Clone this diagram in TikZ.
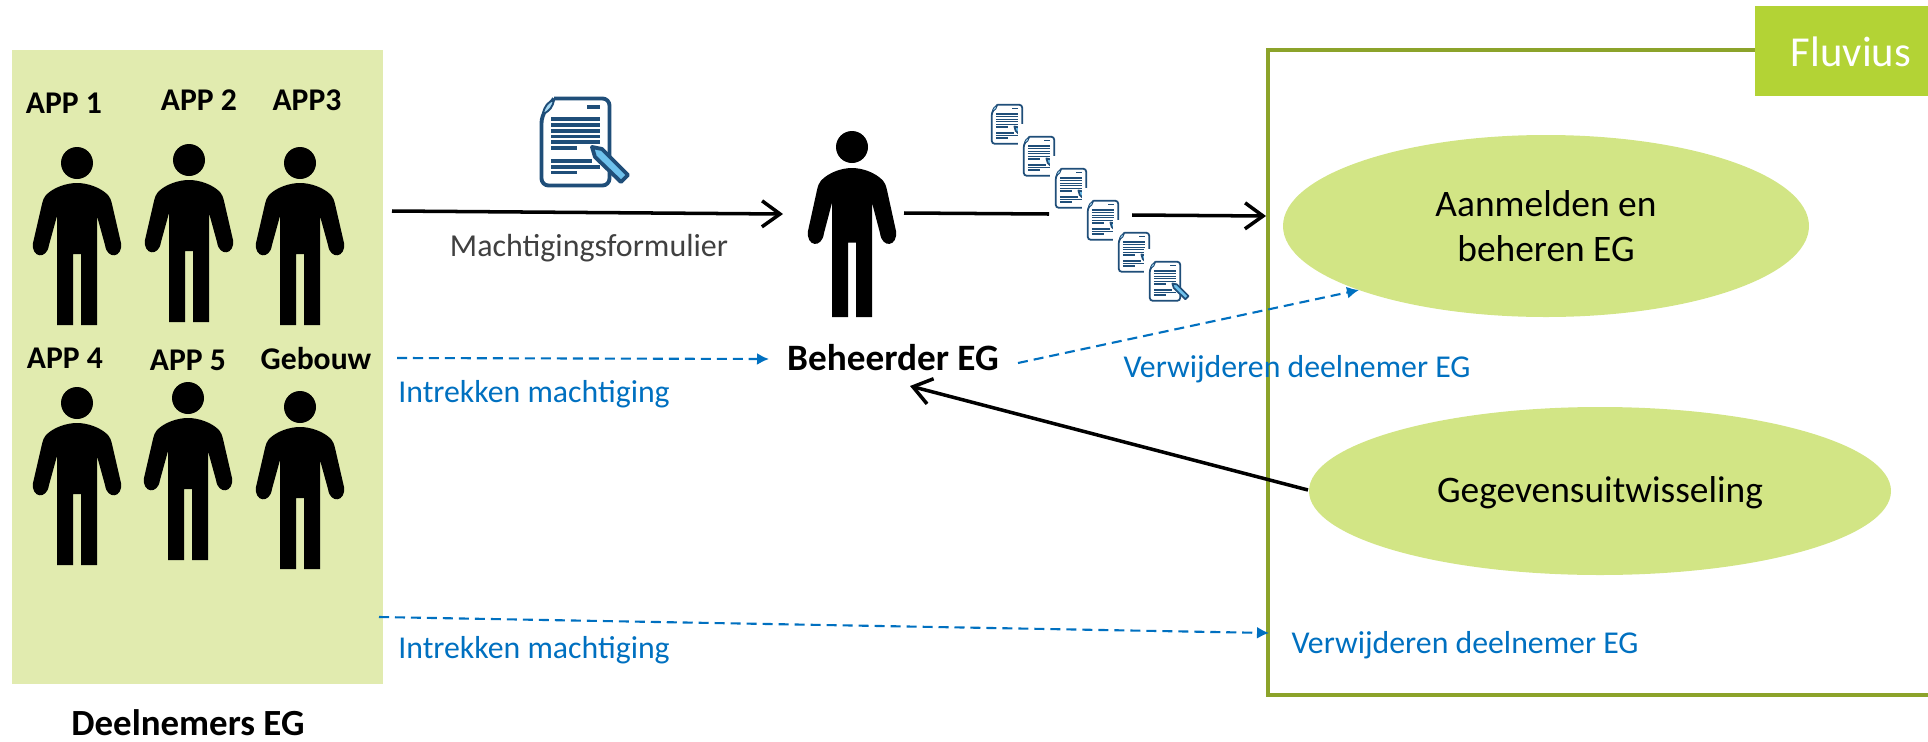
\documentclass[tikz,border=0pt]{standalone}
\usepackage{fontspec}
\setmainfont{Carlito}
\usetikzlibrary{arrows.meta,shapes.geometric}
\definecolor{paneel}{HTML}{E1EBAF}
\definecolor{ovaal}{HTML}{D2E585}
\definecolor{kader}{HTML}{8CA32A}
\definecolor{fluv}{HTML}{B3D335}
\definecolor{blauw}{HTML}{0070C0}
\definecolor{inkt}{HTML}{1F4E79}
\definecolor{potlood}{HTML}{6EC1EC}
\tikzset{
    pijl/.style={black, line width=2pt, -{Straight Barb[length=3.6mm, width=5.2mm, line width=2pt]}},
    stippel/.style={blauw, line width=1.2pt, dash pattern=on 5.7pt off 3.4pt, -{Latex[length=2.4mm, width=2.4mm]}},
    app/.style={font=\bfseries\fontsize{18}{20}\selectfont},
    blauwtekst/.style={blauw, font=\fontsize{18.1}{20}\selectfont},
    ovaaltekst/.style={align=center, font=\fontsize{21.3}{26}\selectfont},
}
% figure: head centre at #1,#2, body stretch #3
\newcommand{\persoon}[3]{
\begin{scope}[shift={(#1,#2)}]
\fill (0,0) circle (16);
\begin{scope}[yscale=#3]
\fill (-31,32) .. controls (-23,24) and (-10,20) .. (0,20) .. controls (10,20) and (23,24) .. (31,32)
    .. controls (33,34) and (34,37) .. (35,41) -- (44,80) .. controls (46,95) and (30,97) .. (28,82)
    -- (20,53) -- (20,162) -- (4,162) -- (4,91) -- (-4,91) -- (-4,162) -- (-20,162) -- (-20,53)
    -- (-28,82) .. controls (-30,97) and (-46,95) .. (-44,80) -- (-35,41) .. controls (-34,37) and (-33,34) .. (-31,32) -- cycle;
\end{scope}
\end{scope}
}
% form: top left at #1,#2, size factor #3
\newcommand{\formulier}[3]{
\begin{scope}[shift={(#1,#2)}, x=#3*0.02cm, y=-#3*0.02cm]
\fill[white] (-12,-27) rectangle (100,100);
\draw[inkt, line width=#3*2.2pt, fill=white, rounded corners=#3*4pt] (14,1.5) -- (69.5,1.5) -- (69.5,88.5) -- (1.5,88.5) -- (1.5,19) -- (14,1.5);
\fill[potlood!60, draw=inkt, line width=#3*1.1pt] (3,17) .. controls (4,9) and (9,4) .. (14,3) .. controls (13,9) and (10,14) .. (3,17) -- cycle;
\draw[inkt, line width=#3*1.8pt]
    (47,10) -- (60,10)
    (11,22) -- (60,22) (11,28) -- (60,28) (11,34) -- (60,34) (11,39.5) -- (60,39.5) (11,45) -- (60,45)
    (11,51) -- (37,51)
    (11,64) -- (52,64) (11,70) -- (60,70) (11,75.5) -- (37,75.5);
\draw[inkt, line width=#3*2.2pt, fill=potlood, line join=round] (52,50) -- (62,52) -- (88,78) -- (81,85) -- (55,60) -- cycle;
\end{scope}
}
\begin{document}
\begin{tikzpicture}[x=.02cm, y=-.02cm, >=latex]
\useasboundingbox (0,0) rectangle (1928,741);

\fill[paneel] (12,50) rectangle (383,684);
\draw[kader, line width=2.3pt] (1928,50) -- (1268,50) -- (1268,695) -- (1928,695);
\fill[fluv] (1755,6) rectangle (1928,96);
\node (fluvius) [white, font=\fontsize{24.3}{26}\selectfont] at (1851,52) {Fluvius};

\node (aanmelden) [ellipse, fill=ovaal, minimum width=526*.02cm, minimum height=182*.02cm, inner sep=0pt] at (1546,226) {};
\node (gegevens) [ellipse, fill=ovaal, minimum width=582*.02cm, minimum height=168*.02cm, inner sep=0pt] at (1600,491) {};
\node [ovaaltekst] at (aanmelden) {Aanmelden en\\beheren EG};
\node [ovaaltekst] at (1600,493) {Gegevensuitwisseling};

\foreach \x/\y/\s in {77/163/1, 189/160/1, 300/163/1, 77/403/1, 188/398/1, 300/407/1, 852/147/1.05}
{
    \persoon{\x}{\y}{\s}
}
\node (app1) [app] at (64,103) {APP 1};
\node (app2) [app] at (199,100) {APP 2};
\node (app3) [app] at (307,100) {APP3};
\node (app4) [app] at (65,358) {APP 4};
\node (app5) [app] at (188,360) {APP 5};
\node (gebouw) [app] at (316,359) {Gebouw};
\node (deelnemers) [inner sep=0pt, font=\bfseries\fontsize{21}{24}\selectfont] at (188,723) {Deelnemers EG};
\node (beheerder) [font=\bfseries\fontsize{21.2}{24}\selectfont] at (893,358) {Beheerder EG};

\formulier{540}{97}{1}

\coordinate (formuit) at (392,211);
\coordinate (formin) at (783,214);
\coordinate (stapela) at (904,213);
\coordinate (stapelb) at (1049,214);
\coordinate (stapelc) at (1132,215);
\coordinate (stapeld) at (1266,216);
\draw[pijl] (formuit) -- (formin);
\draw[black, line width=2pt] (stapela) -- (stapelb);
\draw[pijl] (stapelc) -- (stapeld);
\foreach \x/\y in {991/104, 1023/136, 1055/168, 1087/200, 1118/232, 1149/261}
{
    \formulier{\x}{\y}{.45}
}

\node (formtekst) [black!75, font=\fontsize{18.2}{20}\selectfont] at (589,248) {Machtigingsformulier};
\node (intrek1) [blauwtekst] at (534,394) {Intrekken machtiging};
\node (intrek2) [blauwtekst] at (534,650) {Intrekken machtiging};
\node (verw1) [blauwtekst] at (1297,369) {Verwijderen deelnemer EG};
\node (verw2) [blauwtekst] at (1465,645) {Verwijderen deelnemer EG};

\coordinate (ina) at (397,358);
\coordinate (inb) at (769,359);
\coordinate (uita) at (1018,363);
\coordinate (uitb) at (1359,290);
\coordinate (onda) at (379,617);
\coordinate (ondb) at (1269,633);
\coordinate (gegout) at (1308,490);
\coordinate (behin) at (910,386);
\draw[stippel] (ina) -- (inb);
\draw[stippel] (uita) -- (uitb);
\draw[stippel] (onda) -- (ondb);
\draw[pijl] (gegout) -- (behin);
\end{tikzpicture}
\end{document}
